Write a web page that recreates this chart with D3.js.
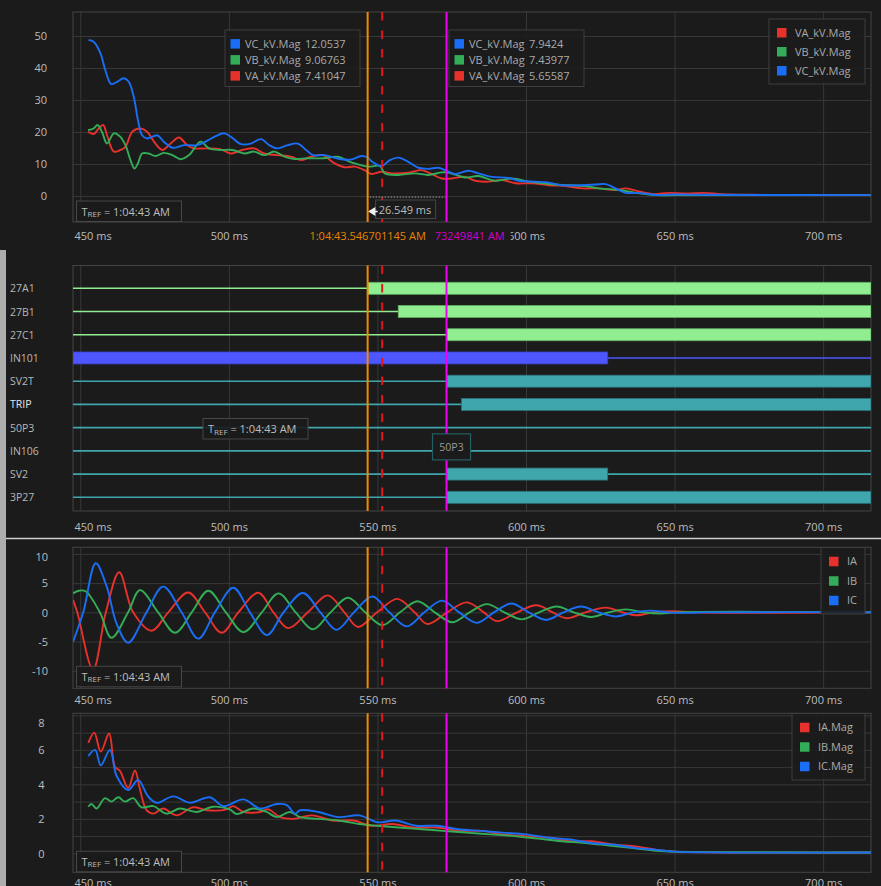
<!DOCTYPE html>
<html>
<head>
<meta charset="utf-8">
<script src="https://cdn.jsdelivr.net/npm/d3@7/dist/d3.min.js"></script>
<style>
html,body{margin:0;padding:0;background:#1b1b1b;overflow:hidden}
svg{display:block}
text{font-family:"Open Sans","Noto Sans",sans-serif}
</style>
</head>
<body>
<svg id="chart" width="881" height="886"></svg>
<script>
// ---------- time axis & cursors ----------
const timeTicks = [450, 500, 550, 600, 650, 700];
const cursorMs = [546.701145, 573.249841];
const cursorLabels = ["1:04:43.546701145 AM", "1:04:43.573249841 AM"];
const markerMs = 551.6;
const deltaLabel = "26.549 ms";
const trefTime = "1:04:43 AM";

// ---------- voltage magnitudes (kV) ----------
const voltageNames = ["VA_kV.Mag", "VB_kV.Mag", "VC_kV.Mag"];
const voltTicks = [0, 10, 20, 30, 40, 50];
const vaMag = [[452.6,20.1],[454.5,19.4],[456.2,21.1],[457.7,22.2],[459,19],[461.3,13.9],[463.5,14.4],[465.2,15.4],[467.5,20.1],[470.3,21.1],[472.5,20.1],[474.8,17],[477.6,14.4],[480.4,16.4],[483.2,18.3],[486,15.9],[488.3,14.9],[492.8,14.9],[497.3,14.6],[500.7,13.3],[504.6,14.4],[508.5,14.9],[511.9,13.3],[516.4,12.8],[520.9,12.3],[524.3,11.25],[527.7,12.3],[531.6,12.8],[535.6,10.2],[539,9],[542.3,9.2],[545.7,8.1],[548,6.9],[551.4,7.6],[554.7,7.1],[560.4,7.3],[564.9,8.1],[568.2,6.9],[571.6,5.5],[575,5.5],[579.5,6],[582.9,4.8],[587.4,4.5],[592,5],[596.4,4],[602,4],[607.7,3.4],[613.3,3.1],[618.9,2.4],[624.5,2.4],[630.2,1.9],[633.5,2.4],[636.9,1.7],[642.6,0.6],[648.2,1.0],[654,0.8],[660,1.0],[666,0.6],[675,0.4],[690,0.3],[716,0.3]];
const vbMag = [[452.6,20.6],[454.5,21.1],[455.8,22.2],[457.3,20.1],[459,16.4],[461.3,19.6],[463.5,18.5],[465.2,15.9],[466.9,11.25],[468.2,8.6],[469.4,10.2],[470.8,13.3],[473,13.3],[475.3,12.5],[478.1,13.5],[481,12.8],[483.8,11.5],[486.6,12.8],[490.5,17],[493.3,14.9],[497.3,14.4],[501.2,14.4],[505.2,13.3],[508.5,13.9],[511.9,12.8],[515.3,13.9],[518.7,12.3],[522.1,11.6],[526.6,11.8],[532.2,11.8],[536.7,12.3],[541.2,10.5],[546.9,9.2],[550.8,9.4],[552.5,7.1],[557,6.6],[562.6,7.1],[567.1,6.6],[571.6,7.4],[573.5,7.4],[576.5,6.6],[579.5,5.8],[584,6.25],[589.6,4.8],[595.3,5.5],[600.9,4.5],[607.7,3.75],[614.4,3.4],[620,3.1],[624.5,2.4],[631.3,1.9],[636.9,1.0],[643.7,0.3],[650,0.3],[716,0.3]];
const vcMag = [[452.8,48.75],[454.5,48.2],[456.8,44.6],[458.4,39.4],[460.4,35],[462.4,35.7],[464.6,36.8],[466.3,35.7],[468,31],[469.4,23.75],[470.8,19],[472.5,18],[475.9,19],[478.1,17],[481,15.1],[484.9,15.9],[489.4,15.9],[492.8,17.3],[495.6,18.75],[498.4,19.6],[500.7,18.5],[504,16.25],[507.4,16.4],[510.8,17.8],[513.6,15.9],[516.4,14.9],[519.8,15.9],[523.2,16.4],[526,14.4],[528.3,12.8],[532.2,12.8],[535,12.1],[537.8,11.5],[541,11.4],[544.6,12.5],[546.7,12.05],[548,10.9],[551.4,9.4],[554.2,11.25],[557,12],[560.4,10.7],[563.8,8.85],[567.1,8.5],[570.5,8.85],[573.3,7.9],[576.1,6.9],[580.6,7.9],[584,7.1],[588.5,6],[594.2,5.7],[597.5,4.8],[603.1,4.5],[607.7,4.2],[612.2,3.4],[618.9,3.4],[623.4,3.6],[626.8,3.75],[630.2,2.4],[633.5,1.0],[636.9,1.0],[641.4,0.6],[644.3,0.3],[649.3,0.5],[660,0.4],[716,0.3]];
// values shown in the two cursor read-outs (order VC, VB, VA)
const readoutNames = ["VC_kV.Mag", "VB_kV.Mag", "VA_kV.Mag"];
const readoutA = ["12.0537", "9.06763", "7.41047"];
const readoutB = ["7.9424", "7.43977", "5.65587"];

// ---------- digital channels ----------
const digitalNames = ["27A1","27B1","27C1","IN101","SV2T","TRIP","50P3","IN106","SV2","3P27"];
const digitalOn = [
  [[546.7, 716.1]],
  [[557.0, 716.1]],
  [[573.3, 716.1]],
  [[447.55, 627.5]],
  [[573.3, 716.1]],
  [[578.3, 716.1]],
  [],
  [],
  [[573.3, 627.5]],
  [[573.3, 716.1]]
];
const digitalTip = {name: "50P3", ms: 573.25, row: "IN106"};

// ---------- phase currents ----------
const currentNames = ["IA", "IB", "IC"];
const currentTicks = [-10, -5, 0, 5, 10];
const iaInst = [[447.6,2.1],[449,0],[454.3,-9.8],[458.6,0],[463.1,6.85],[467.8,0],[474.0,-3.15],[479.6,0],[486.3,3.4],[492,0],[497.6,-3.5],[503.2,0],[509.9,3.35],[515,0],[520,-2.7],[526.6,0],[533.3,2.9],[538.9,0],[543.4,-2.5],[549.9,0],[556.7,2.3],[562.5,0],[566.8,-2.0],[573.5,0],[580.1,1.7],[585.8,0],[590.2,-1.5],[597,0],[603.5,1.2],[609,0],[613.6,-1.0],[620,0],[626.9,0.8],[632.5,0],[637,-0.5],[643,0],[650,0.2],[656,0],[716.1,0]];
const ibInst = [[447.6,3.25],[449.5,3.7],[451.8,3.6],[456.6,0],[460.5,-4.35],[466.1,0],[470.1,3.8],[476.2,0],[481.9,-3.5],[487.5,0],[493.1,3.7],[499,0],[504.9,-3.4],[511.1,0],[516.7,3.25],[522.5,0],[528.3,-2.9],[534.2,0],[540.1,2.5],[545.9,0],[551.7,-2.2],[557.6,0],[563.5,1.9],[569.3,0],[575.2,-1.7],[581,0],[586.9,1.4],[592.7,0],[598.6,-1.2],[604.4,0],[610.3,1.0],[616.1,0],[622,-0.8],[627.8,0],[633.7,0.5],[639.5,0],[645.4,-0.2],[651,0],[716.1,0]];
const icInst = [[447.6,-5.0],[451.0,0],[455.2,8.4],[458.9,4.4],[462.2,-1.9],[466.1,-5.2],[472.3,0],[477.9,4.4],[484.1,0],[489.7,-4.5],[495.3,0],[501.5,4.2],[507.1,0],[512.8,-3.9],[518.4,0],[524.9,3.3],[530.8,0],[536.2,-3.0],[542.1,0],[548.3,2.7],[554,0],[559.9,-2.4],[565.8,0],[571.7,2.0],[577.5,0],[583.4,-1.8],[589.2,0],[595.1,1.5],[600.9,0],[606.8,-1.3],[612.6,0],[618.5,1.0],[624.4,0],[630.2,-0.7],[636,0],[641.9,0.3],[647.7,0],[653.6,-0.1],[660,0],[716.1,0]];

// ---------- current magnitudes ----------
const magNames = ["IA.Mag", "IB.Mag", "IC.Mag"];
const magTicks = [0, 1, 2, 3, 4, 5, 6, 7, 8];
const iaMag = [[452.7,6.4],[454.7,7.0],[456.9,5.9],[459.7,6.95],[461.7,5.0],[463.3,4.8],[466.1,3.8],[468.4,4.8],[470.1,3.7],[472.3,2.5],[474.6,2.3],[477.9,2.6],[482.4,2.2],[488.0,2.67],[492.5,2.5],[499.3,2.55],[501.5,2.74],[504.9,2.4],[510.5,2.4],[513.3,2.55],[517.2,2.1],[521.7,2.0],[528,2.2],[535,1.9],[542,1.9],[548,1.6],[555,1.7],[562,1.5],[570,1.5],[578,1.3],[585,1.3],[592,1.1],[600,1.0],[608,0.9],[615,0.7],[622,0.7],[630,0.5],[637,0.4],[644,0.2],[650,0.1],[716.1,0.05]];
const ibMag = [[452.7,2.7],[453.8,2.86],[455.5,2.6],[458.3,3.2],[460.5,3.0],[462.8,3.25],[465,3.0],[467.8,3.2],[470.6,2.67],[474.6,2.74],[479,2.3],[483.5,2.6],[489.1,2.4],[494.7,2.7],[500.3,2.55],[502.6,2.28],[508.2,2.6],[512.7,2.4],[516.1,2.1],[520.6,2.4],[524,2.1],[530,2.0],[537,1.9],[544,1.7],[550,1.6],[557,1.5],[565,1.4],[572,1.3],[580,1.2],[588,1.1],[596,1.0],[604,0.85],[612,0.7],[620,0.6],[628,0.45],[636,0.3],[644,0.15],[650,0.1],[716.1,0.05]];
const icMag = [[452.7,5.64],[455,6.0],[456.9,5.1],[460,6.0],[462.2,4.5],[466.1,3.67],[469.5,4.25],[472.8,3.3],[475.7,2.93],[481.3,3.3],[486.9,2.93],[493.6,3.25],[498.1,2.74],[504.9,3.13],[510.5,2.6],[516.1,2.86],[519.5,2.8],[522.3,2.3],[524,2.5],[530,2.4],[537,2.1],[544,2.2],[550,1.8],[556,1.9],[563,1.6],[570,1.6],[577,1.4],[585,1.3],[592,1.2],[600,1.1],[608,0.9],[615,0.8],[622,0.6],[630,0.5],[637,0.3],[644,0.2],[650,0.1],[716.1,0.05]];

// ================= drawing =================
const COL = {A: "#e8302c", B: "#33ad57", C: "#1a6ef5"};
const GRID = "#383838", FRAME = "#444444", TXT = "#bdbdbd";
const L = 73, R = 871;
const svg = d3.select("#chart");
svg.append("rect").attr("width", 881).attr("height", 886).attr("fill", "#1b1b1b");
const defs = svg.append("defs");

const x = d3.scaleLinear().domain([447.55, 716.1]).range([L, R]);

const P = {
  volt: {top: 12, bottom: 222, pad: 10},
  dig:  {top: 265.5, bottom: 511, pad: 12},
  inst: {top: 547.3, bottom: 688.3, pad: 8},
  mag:  {top: 713.3, bottom: 872.3, pad: 7}
};

function clip(id, p) {
  defs.append("clipPath").attr("id", id).append("rect")
    .attr("x", L).attr("y", p.top).attr("width", R - L).attr("height", p.bottom - p.top);
  return `url(#${id})`;
}

function xAxis(p, skip) {
  const ticks = timeTicks.filter(t => !(skip || []).includes(t));
  const g = svg.append("g").attr("transform", `translate(0,${p.bottom})`)
    .call(d3.axisBottom(x).tickValues(ticks).tickSize(-(p.bottom - p.top))
      .tickPadding(p.pad).tickFormat(d => d + " ms"));
  g.select(".domain").remove();
  g.selectAll(".tick line").attr("stroke", GRID);
  g.selectAll(".tick text").attr("fill", TXT).attr("font-size", 11)
    .attr("font-family", '"Open Sans","Noto Sans",sans-serif');
  // keep the first label inside the plot
  g.selectAll(".tick text").each(function(d) {
    const w = this.getComputedTextLength();
    if (x(d) - w / 2 < L) d3.select(this).attr("text-anchor", "start").attr("x", L - x(d) + 1);
  });
  return g;
}

function yAxis(p, y, ticks, endX, fmt) {
  const g = svg.append("g").attr("transform", `translate(${L},0)`)
    .call(d3.axisLeft(y).tickValues(ticks).tickSize(-(R - L))
      .tickPadding(L - endX).tickFormat(fmt || (d => d)));
  g.select(".domain").remove();
  g.selectAll(".tick line").attr("stroke", GRID);
  g.selectAll(".tick text").attr("fill", TXT).attr("font-size", 11)
    .attr("font-family", '"Open Sans","Noto Sans",sans-serif')
    .attr("dy", d => (y(d) - p.top < 9.5 ? (9.5 - (y(d) - p.top)) : 0) + 3.8);
  return g;
}

function frame(p) {
  svg.append("rect").attr("x", L).attr("y", p.top).attr("width", R - L)
    .attr("height", p.bottom - p.top).attr("fill", "none").attr("stroke", FRAME);
}

function cursors(p) {
  const g = svg.append("g");
  g.append("line").attr("x1", x(markerMs)).attr("x2", x(markerMs))
    .attr("y1", p.top).attr("y2", p.bottom)
    .attr("stroke", "#e3161a").attr("stroke-width", 2).attr("stroke-dasharray", "8.5,10");
  g.append("line").attr("x1", x(cursorMs[0])).attr("x2", x(cursorMs[0]))
    .attr("y1", p.top).attr("y2", p.bottom).attr("stroke", "#f08a00").attr("stroke-width", 2);
  g.append("line").attr("x1", x(cursorMs[1])).attr("x2", x(cursorMs[1]))
    .attr("y1", p.top).attr("y2", p.bottom).attr("stroke", "#f000f0").attr("stroke-width", 2);
  return g;
}

function tref(x0, y0) {
  const g = svg.append("g");
  g.append("rect").attr("x", x0).attr("y", y0).attr("width", 105).attr("height", 20.5)
    .attr("fill", "#1b1b1b").attr("fill-opacity", 0.9).attr("stroke", "#474747");
  const t = g.append("text").attr("x", x0 + 5).attr("y", y0 + 14.5).attr("fill", TXT).attr("font-size", 11);
  t.append("tspan").text("T");
  t.append("tspan").attr("font-size", 8).attr("dy", 1.5).text("REF");
  t.append("tspan").attr("dy", -1.5).text(" = " + trefTime);
}

function legend(x0, y0, w, names, step) {
  const g = svg.append("g");
  g.append("rect").attr("x", x0).attr("y", y0).attr("width", w).attr("height", step * 3 + 8)
    .attr("fill", "#1b1b1b").attr("fill-opacity", 0.85).attr("stroke", "#3e3e3e");
  const cols = [COL.A, COL.B, COL.C];
  names.forEach((n, i) => {
    const cy = y0 + 4 + step * (i + 0.5);
    g.append("rect").attr("x", x0 + 8).attr("y", cy - 4.5).attr("width", 9.5).attr("height", 9.5).attr("fill", cols[i]);
    g.append("text").attr("x", x0 + 26).attr("y", cy + 4).attr("fill", "#a9a9a9").attr("font-size", 11).text(n);
  });
}

const curve = d3.curveCatmullRom.alpha(0.5);
function traces(p, y, series, clipId) {
  const g = svg.append("g").attr("clip-path", clip(clipId, p));
  const cols = [COL.A, COL.B, COL.C];
  series.forEach((s, i) => {
    g.append("path").datum(s).attr("fill", "none").attr("stroke", cols[i]).attr("stroke-width", 1.9)
      .attr("stroke-linejoin", "round")
      .attr("d", d3.line().x(d => x(d[0])).y(d => y(d[1])).curve(curve));
  });
}

// ---------- panel 1 : voltage magnitudes ----------
{
  const p = P.volt;
  const y = d3.scaleLinear().domain([-8.1, 57.5]).range([p.bottom, p.top]);
  // the 550 ms label sits under the cursor time read-out
  xAxis(p, [550]);
  yAxis(p, y, voltTicks, 47);
  frame(p);
  traces(p, y, [vaMag, vbMag, vcMag], "clipVolt");
  cursors(p);
  legend(769, 19, 96, voltageNames, 19);

  // cursor read-outs
  [[225, readoutA], [449, readoutB]].forEach(([bx, vals]) => {
    const g = svg.append("g");
    g.append("rect").attr("x", bx).attr("y", 30).attr("width", 135).attr("height", 56.5)
      .attr("fill", "#1b1b1b").attr("fill-opacity", 0.85).attr("stroke", "#3e3e3e");
    const cols = [COL.C, COL.B, COL.A];
    readoutNames.forEach((n, i) => {
      const cy = 43.8 + i * 16;
      g.append("rect").attr("x", bx + 5.5).attr("y", cy - 4.7).attr("width", 9.5).attr("height", 9.5).attr("fill", cols[i]);
      g.append("text").attr("x", bx + 20).attr("y", cy + 4).attr("fill", "#a9a9a9").attr("font-size", 11).text(n);
      g.append("text").attr("x", bx + 80).attr("y", cy + 4).attr("fill", "#a9a9a9").attr("font-size", 11).text(vals[i]);
    });
  });

  // delta between cursors
  const dy = y(0) + 1;
  svg.append("line").attr("x1", x(cursorMs[0]) + 2).attr("x2", x(cursorMs[1]) - 1).attr("y1", dy).attr("y2", dy)
    .attr("stroke", "#9a9a9a").attr("stroke-dasharray", "1.5,1.5");
  const db = svg.append("g");
  db.append("rect").attr("x", x(cursorMs[0]) + 8).attr("y", 200).attr("width", 60).attr("height", 18.5)
    .attr("fill", "#1b1b1b").attr("stroke", "#474747");
  db.append("text").attr("x", x(cursorMs[0]) + 11).attr("y", 213.5).attr("fill", TXT).attr("font-size", 11).text(deltaLabel);
  db.append("path").attr("d", `M${x(cursorMs[0]) + 2},211.5 l5,-3.2 v6.4 z M${x(cursorMs[0]) + 6},211.5 h4`)
    .attr("fill", "#f2f2f2").attr("stroke", "#f2f2f2").attr("stroke-width", 1.5);

  tref(L + 3.5, p.bottom - 21);

  // cursor time labels under the axis; the later one is partly covered by the earlier one
  [[1, "#d000d0", 6], [0, "#e98300", 9]].forEach(([k, c, pad]) => {
    const t = svg.append("text").attr("x", x(cursorMs[k])).attr("y", p.bottom + 18)
      .attr("text-anchor", "middle").attr("font-size", 11).attr("fill", c).text(cursorLabels[k]);
    const w = t.node().getComputedTextLength();
    svg.insert("rect", () => t.node()).attr("x", x(cursorMs[k]) - w / 2 - pad).attr("y", p.bottom + 5)
      .attr("width", w + 2 * pad).attr("height", 17).attr("fill", "#1b1b1b");
  });
}

// ---------- panel 2 : digital channels ----------
{
  const p = P.dig;
  xAxis(p);
  frame(p);
  const row = d3.scalePoint().domain(digitalNames).range([288.3, 497.3]);
  const colorOf = n => n.startsWith("27") ? {on: "#90ee90", edge: "#5fae5f"}
    : n === "IN101" ? {on: "#4e56ff", edge: "#3a40c0"} : {on: "#3fa6ad", edge: "#2b7479"};
  const g = svg.append("g").attr("clip-path", clip("clipDig", p));
  digitalNames.forEach((n, i) => {
    const c = colorOf(n), yy = row(n);
    // off segments: complement of the on intervals
    let cur = x.domain()[0];
    const offs = [];
    digitalOn[i].forEach(([a, b]) => { if (a > cur) offs.push([cur, a]); cur = b; });
    if (cur < x.domain()[1]) offs.push([cur, x.domain()[1]]);
    offs.forEach(([a, b]) => g.append("line").attr("x1", x(a)).attr("x2", x(b)).attr("y1", yy).attr("y2", yy)
      .attr("stroke", c.on).attr("stroke-width", 1.6));
    digitalOn[i].forEach(([a, b]) => g.append("rect").attr("x", x(a)).attr("y", yy - 6)
      .attr("width", x(b) - x(a)).attr("height", 12).attr("fill", c.on).attr("stroke", c.edge).attr("stroke-width", 0.8));
    svg.append("text").attr("x", 10).attr("y", yy + 4).attr("font-size", 10.5)
      .attr("fill", n === "TRIP" ? "#e6e6e6" : "#b8b8b8").text(n);
  });
  cursors(p);
  tref(203, 418.5);
  const tx = x(digitalTip.ms), ty = row(digitalTip.row);
  const tg = svg.append("g");
  tg.append("rect").attr("x", tx - 14).attr("y", ty - 17).attr("width", 38).attr("height", 26)
    .attr("fill", "#1b1b1b").attr("stroke", "#265f62").attr("stroke-width", 1.2);
  tg.append("text").attr("x", tx + 5).attr("y", ty).attr("text-anchor", "middle").attr("font-size", 10.5)
    .attr("fill", "#9a9a9a").text(digitalTip.name);
}

// separator between the digital block and the analog panels, and the window's left edge
svg.append("line").attr("x1", 0).attr("x2", 881).attr("y1", 538.5).attr("y2", 538.5)
  .attr("stroke", "#cfcfcf").attr("stroke-width", 1.5);
svg.append("rect").attr("x", 0).attr("y", 250).attr("width", 6).attr("height", 636).attr("fill", "#adadad");

// ---------- panel 3 : instantaneous currents ----------
{
  const p = P.inst;
  const y = d3.scaleLinear().domain([-13.0, 11.13]).range([p.bottom, p.top]);
  xAxis(p);
  yAxis(p, y, currentTicks, 48);
  frame(p);
  traces(p, y, [iaInst, ibInst, icInst], "clipInst");
  cursors(p);
  legend(821, 547.5, 44, currentNames, 19.5);
  tref(L + 3.5, p.bottom - 22);
}

// ---------- panel 4 : current magnitudes ----------
{
  const p = P.mag;
  const y = d3.scaleLinear().domain([-1.10, 8.12]).range([p.bottom, p.top]);
  xAxis(p);
  yAxis(p, y, magTicks, 44.5, d => d % 2 === 0 ? d : "");
  frame(p);
  traces(p, y, [iaMag, ibMag, icMag], "clipMag");
  cursors(p);
  legend(792, 713.5, 73, magNames, 19.5);
  tref(L + 3.5, p.bottom - 21);
}
</script>
</body>
</html>
